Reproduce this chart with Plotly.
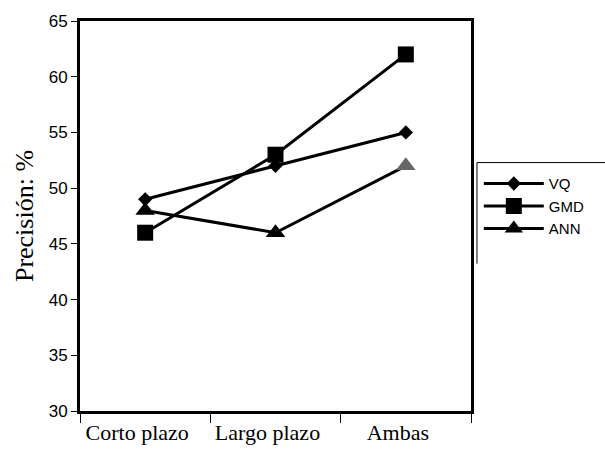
import plotly.graph_objects as go

categories = ["Corto plazo", "Largo plazo", "Ambas"]
vq = [49, 52, 55]
gmd = [46, 53, 62]
ann = [48, 46, 52]
y_ticks = [30, 35, 40, 45, 50, 55, 60, 65]

fig = go.Figure()
fig.add_trace(go.Scatter(x=categories, y=vq, name="VQ", mode="lines+markers",
                         line=dict(color="black", width=3),
                         marker=dict(symbol="diamond", size=11, color="black")))
fig.add_trace(go.Scatter(x=categories, y=gmd, name="GMD", mode="lines+markers",
                         line=dict(color="black", width=3),
                         marker=dict(symbol="square", size=16, color="black")))
fig.add_trace(go.Scatter(x=categories, y=ann, name="ANN", mode="lines+markers",
                         line=dict(color="black", width=3),
                         marker=dict(symbol="triangle-up", size=17, color=["black", "black", "#666"])))

fig.update_layout(
    width=605, height=457,
    margin=dict(l=80, r=134, t=17, b=46),
    paper_bgcolor="white", plot_bgcolor="white",
    showlegend=True,
    legend=dict(x=1.02, y=0.625, xanchor="left", yanchor="top",
                font=dict(family="Liberation Sans", size=15, color="black"),
                itemwidth=60, bgcolor="rgba(0,0,0,0)", borderwidth=0,
                tracegroupgap=0),
    shapes=[
        dict(type="line", xref="paper", yref="paper", x0=1.0153, x1=1.0153, y0=0.378, y1=0.637,
             line=dict(color="black", width=1)),
        dict(type="line", xref="paper", yref="paper", x0=1.0153, x1=1.4, y0=0.637, y1=0.637,
             line=dict(color="black", width=1)),
    ],
)
fig.update_xaxes(type="category", range=[-0.5, 2.5], showline=True, linecolor="black", linewidth=3,
                 mirror=True, ticks="outside", tickson="boundaries", ticklen=9, tickcolor="black",
                 tickwidth=1, showgrid=False, zeroline=False, ticklabelshift=-8,
                 tickfont=dict(family="Liberation Serif", size=22, color="black"))
fig.update_yaxes(range=[30, 65], tickvals=y_ticks, ticktext=[str(v) for v in y_ticks],
                 showline=True, linecolor="black", linewidth=3, mirror=True,
                 ticks="outside", ticklen=6, tickcolor="black", tickwidth=1,
                 showgrid=False, zeroline=False,
                 tickfont=dict(family="Liberation Sans", size=17, color="black"),
                 title=dict(text="Precisión: %", standoff=8,
                            font=dict(family="Liberation Serif", size=26, color="black")))

fig.write_html("out.html")
